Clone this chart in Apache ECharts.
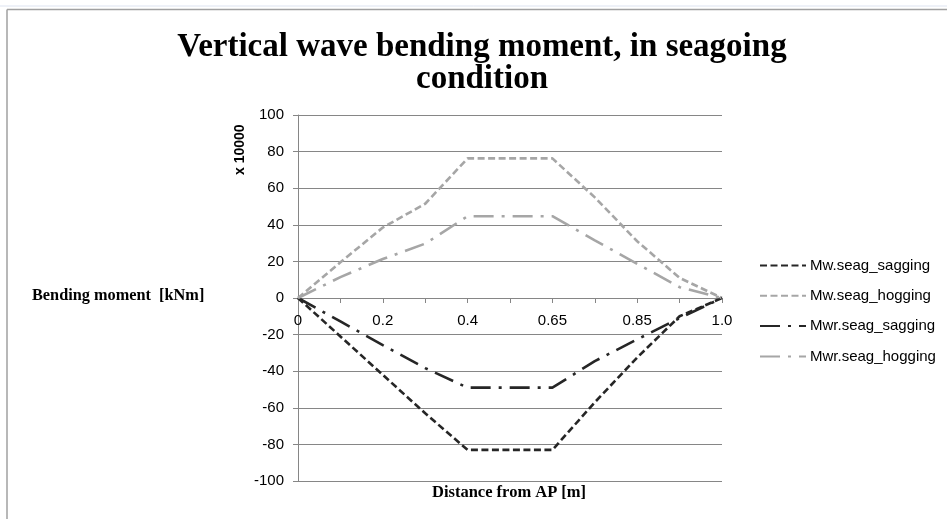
<!DOCTYPE html>
<html>
<head>
<meta charset="utf-8">
<script src="https://cdn.jsdelivr.net/npm/echarts@6/dist/echarts.min.js"></script>
<style>
html,body{margin:0;padding:0;background:#fff;}
#chart{width:947px;height:519px;}
</style>
</head>
<body>
<div id="chart"></div>
<script>
var categories = ['0','0.1','0.2','0.3','0.4','0.5','0.65','0.75','0.85','0.95','1.0'];
var mwSagging  = [0, -21, -42, -63, -83, -83, -83, -57, -32.5, -10, 0];
var mwHogging  = [0, 19.5, 38.5, 51.5, 76.3, 76.3, 76.3, 55, 31, 11, 0];
var mwrSagging = [0, -12.8, -25.7, -38.3, -49, -49, -49, -34.5, -22.6, -11, 0];
var mwrHogging = [0, 11.4, 21.3, 29.7, 44.7, 44.7, 44.7, 31.5, 18.7, 5.9, 0];
var seriesNames = ['Mw.seag_sagging','Mw.seag_hogging','Mwr.seag_sagging','Mwr.seag_hogging'];
var yTicks = {min: -100, max: 100, interval: 20};

var dark = '#262626', light = '#a6a6a6';
var dashA = [7, 3.5];
var dashB = [20, 8, 3, 8];

function mk(name, data, color, dash) {
  return {
    name: name, type: 'line', data: data, symbol: 'none', showSymbol: false,
    lineStyle: {color: color, width: 2.6, type: dash, cap: 'butt'},
    itemStyle: {color: color},
    animation: false
  };
}

var chart = echarts.init(document.getElementById('chart'), null, {renderer: 'canvas'});
chart.setOption({
  animation: false,
  backgroundColor: '#fff',
  title: {
    text: 'Vertical wave bending moment, in seagoing\ncondition',
    left: 477, top: 26, textAlign: 'center',
    textStyle: {fontFamily: 'Liberation Serif', fontWeight: 'bold', fontSize: 33, lineHeight: 32, color: '#000'}
  },
  grid: {left: 298, right: 225, top: 115, bottom: 38, containLabel: false},
  legend: {
    orient: 'vertical', left: 754, top: 253, itemGap: 15.3, itemWidth: 46, itemHeight: 15,
    itemStyle: {opacity: 0},
    textStyle: {fontFamily: 'Liberation Sans', fontSize: 15, color: '#000', padding: [0,0,0,-1]},
    data: seriesNames
  },
  xAxis: {
    type: 'category', data: categories, boundaryGap: false,
    axisLine: {onZero: true, lineStyle: {color: '#868686', width: 1}},
    axisTick: {show: true, interval: 0, length: 5, lineStyle: {color: '#868686'}},
    axisLabel: {interval: 1, fontFamily: 'Liberation Sans', fontSize: 15, color: '#000', margin: -168},
    splitLine: {show: false}
  },
  yAxis: {
    type: 'value', min: yTicks.min, max: yTicks.max, interval: yTicks.interval,
    axisLine: {show: true, lineStyle: {color: '#868686', width: 1}},
    axisTick: {show: true, length: 5, lineStyle: {color: '#868686'}},
    axisLabel: {fontFamily: 'Liberation Sans', fontSize: 15, color: '#000', margin: 14},
    splitLine: {show: true, lineStyle: {color: '#868686', width: 1}}
  },
  series: [
    mk(seriesNames[0], mwSagging, dark, dashA),
    mk(seriesNames[1], mwHogging, light, dashA),
    mk(seriesNames[2], mwrSagging, dark, dashB),
    mk(seriesNames[3], mwrHogging, light, dashB)
  ],
  graphic: [
    {type: 'line', shape: {x1: 0, y1: 6, x2: 947, y2: 6}, style: {stroke: '#dde3f0', lineWidth: 1}, silent: true},
    {type: 'line', shape: {x1: 7, y1: 9.5, x2: 947, y2: 9.5}, style: {stroke: '#a0a0a0', lineWidth: 1.5}, silent: true},
    {type: 'line', shape: {x1: 7, y1: 9.5, x2: 7, y2: 519}, style: {stroke: '#a0a0a0', lineWidth: 1.5}, silent: true},
    {type: 'text', left: 32, top: 288, style: {text: 'Bending moment  [kNm]', font: 'bold 16.3px "Liberation Serif"', fill: '#000'}},
    {type: 'text', left: 432, top: 484, style: {text: 'Distance from AP [m]', font: 'bold 16.5px "Liberation Serif"', fill: '#000'}},
    {type: 'text', x: 233, y: 175, rotation: Math.PI / 2, style: {text: 'x 10000', font: 'bold 14px "Liberation Sans"', fill: '#000'}}
  ]
});
</script>
</body>
</html>
